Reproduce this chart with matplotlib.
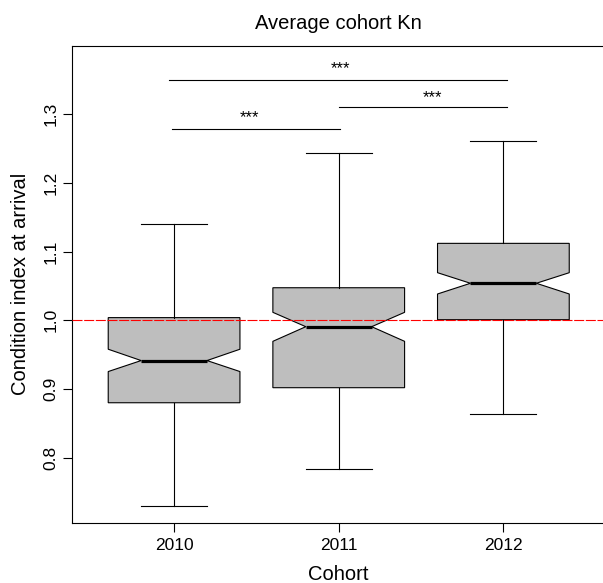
import matplotlib
matplotlib.use("Agg")
import matplotlib.pyplot as plt

plt.rcParams['font.family'] = ['Liberation Sans', 'DejaVu Sans']

# ---- data ----
cohorts = ["2010", "2011", "2012"]
whislo = [0.730, 0.7836, 0.8632]
q1 = [0.880, 0.9019, 1.0009]
med = [0.9414, 0.9907, 1.0539]
q3 = [1.0039, 1.0474, 1.112]
whishi = [1.1397, 1.243, 1.261]
cilo = [0.9254, 0.9694, 1.0383]
cihi = [0.9579, 1.0116, 1.0693]

ref_line = 1.0
# significance brackets
br_x0 = [0.97, 0.985, 2.0]
br_x1 = [3.02, 2.005, 3.02]
br_y = [1.3498, 1.2785, 1.311]
star_x = [2.01, 1.456, 2.567]
star_y = [1.3668, 1.2949, 1.3246]
star_lab = ["***", "***", "***"]
yticks = [0.8, 0.9, 1.0, 1.1, 1.2, 1.3]

W, H = 603, 583
fig = plt.figure(figsize=(W / 100, H / 100), dpi=100)
l, r, t, b = 72, 608, 45.7, 522.7
ax = fig.add_axes([l / W, 1 - b / H, (r - l) / W, (b - t) / H])

stats = []
for i in range(len(cohorts)):
    stats.append(dict(med=med[i], q1=q1[i], q3=q3[i], whislo=whislo[i],
                      whishi=whishi[i], cilo=cilo[i], cihi=cihi[i],
                      fliers=[], label=cohorts[i]))

pos = list(range(1, len(cohorts) + 1))
ax.bxp(stats, positions=pos, widths=0.8, shownotches=True, patch_artist=True,
       showfliers=False,
       boxprops=dict(facecolor='#BEBEBE', edgecolor='black', linewidth=0.8),
       medianprops=dict(color='black', linewidth=2.3, solid_capstyle='butt'),
       whiskerprops=dict(color='black', linewidth=0.8),
       capprops=dict(color='black', linewidth=0.8))

ax.axhline(ref_line, color='#FF0000', linewidth=0.8, dashes=(9, 1.5), zorder=5)

for x0, x1, y in zip(br_x0, br_x1, br_y):
    ax.plot([x0, x1], [y, y], color='black', linewidth=0.8)
for x, y, s in zip(star_x, star_y, star_lab):
    ax.text(x, y, s, ha='center', va='center', fontsize=12)

unit = 164.65
ax.set_xlim(0.38, 0.38 + (r - l) / unit)
ax.set_ylim(0.7054, 1.3997)
ax.set_xticks(pos)
ax.set_xticklabels(cohorts)
ax.set_yticks(yticks)
ax.set_yticklabels([f"{v:.1f}" for v in yticks])
ax.tick_params(axis='both', direction='out', length=6.3, width=0.8,
               labelsize=12.5, color='black')
ax.tick_params(axis='x', pad=5.0)
ax.tick_params(axis='y', pad=3.4)
for lab in ax.get_yticklabels():
    lab.set_rotation(90)
    lab.set_verticalalignment('center')
for sp in ax.spines.values():
    sp.set_linewidth(0.8)
    sp.set_color('black')
ax.spines['right'].set_visible(False)

fig.text(338.5 / W, 1 - 29.3 / H, "Average cohort Kn", ha='center',
         va='baseline', fontsize=14.5)
fig.text(338.5 / W, 1 - 580.5 / H, "Cohort", ha='center', va='baseline',
         fontsize=14.5)
fig.text(26 / W, 1 - 284 / H, "Condition index at arrival", ha='center',
         va='baseline', rotation=90, rotation_mode='anchor', fontsize=14.5)

fig.savefig("out.png", dpi=100)
